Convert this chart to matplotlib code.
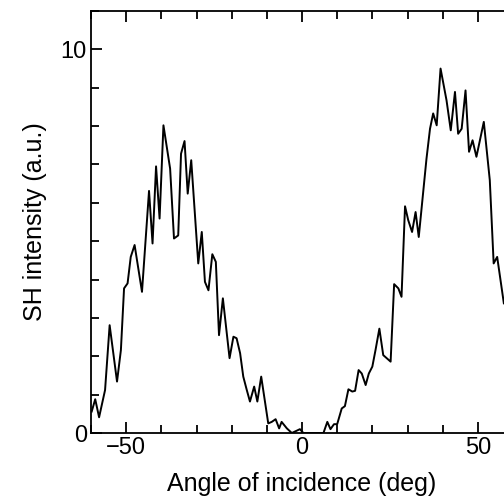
import matplotlib.pyplot as plt
from matplotlib.ticker import MultipleLocator, FixedLocator

plt.rcParams['font.family'] = ['Liberation Sans', 'DejaVu Sans']

# angle of incidence (deg) and SH intensity (a.u.)
angle = [-59.8, -58.8, -57.7, -56.0, -54.7, -52.6, -51.5, -50.6, -49.6, -48.7,
         -47.6, -45.5, -43.5, -42.5, -41.5, -40.5, -39.4, -37.5, -36.4, -35.2,
         -34.4, -33.4, -32.5, -31.5, -29.5, -28.5, -27.6, -26.6, -25.5, -24.5,
         -23.6, -22.5, -20.6, -19.5, -18.6, -17.6, -16.7, -15.7, -14.8, -13.6,
         -12.7, -11.6, -9.6, -8.6, -7.5, -6.5, -5.8, -4.3, -2.9, -1.5,
         -0.6, 0.4, 6.1, 7.2, 8.1, 9.1, 10.0, 11.3, 12.2, 13.2,
         14.3, 15.1, 16.1, 17.0, 18.1, 19.0, 20.0, 20.9, 22.0, 23.1,
         25.2, 26.2, 27.4, 28.3, 29.3, 30.2, 31.3, 32.3, 33.2, 35.4,
         36.4, 37.3, 38.3, 39.4, 41.1, 42.3, 43.5, 44.4, 45.4, 46.5,
         47.5, 48.5, 49.6, 51.7, 53.4, 54.5, 55.5, 57.4]
intensity = [0.56, 0.88, 0.41, 1.12, 2.81, 1.34, 2.16, 3.77, 3.90, 4.59,
             4.90, 3.68, 6.31, 4.94, 6.95, 5.59, 8.02, 6.89, 5.07, 5.15,
             7.28, 7.61, 6.24, 7.11, 4.42, 5.24, 3.94, 3.72, 4.66, 4.46,
             2.55, 3.51, 1.95, 2.51, 2.47, 2.08, 1.47, 1.12, 0.82, 1.21,
             0.82, 1.47, 0.25, 0.29, 0.36, 0.12, 0.29, 0.12, 0.0, 0.06,
             0.10, 0.0, 0.0, 0.29, 0.10, 0.23, 0.23, 0.64, 0.70, 1.14,
             1.08, 1.10, 1.64, 1.55, 1.25, 1.55, 1.73, 2.16, 2.72, 2.03,
             1.86, 3.88, 3.77, 3.55, 5.91, 5.55, 5.24, 5.76, 5.11, 7.15,
             7.93, 8.33, 8.02, 9.50, 8.67, 7.89, 8.89, 7.80, 7.93, 8.93,
             7.33, 7.63, 7.20, 8.11, 6.59, 4.42, 4.59, 3.38]

fig = plt.figure(figsize=(5.04, 4.98), dpi=100)
ax = fig.add_axes([91 / 504, 65 / 498, 422 / 504, 422 / 498])

ax.plot(angle, intensity, color='black', lw=1.4)

ax.set_xlim(-60, 60)
ax.set_ylim(0, 11)

ax.xaxis.set_major_locator(FixedLocator([-50, 0, 50]))
ax.xaxis.set_minor_locator(MultipleLocator(10))
ax.yaxis.set_major_locator(FixedLocator([0, 10]))
ax.yaxis.set_minor_locator(MultipleLocator(1))

ax.tick_params(which='both', direction='in', top=True, right=False,
               width=1.3, labelsize=17, pad=3)
ax.tick_params(which='major', length=8)
ax.tick_params(which='minor', length=5.5)

for s in ax.spines.values():
    s.set_linewidth(1.3)

ax.set_xlabel('Angle of incidence (deg)', fontsize=18, labelpad=9)
ax.set_ylabel('SH intensity (a.u.)', fontsize=18, labelpad=10)

fig.savefig('out.png', dpi=100)
